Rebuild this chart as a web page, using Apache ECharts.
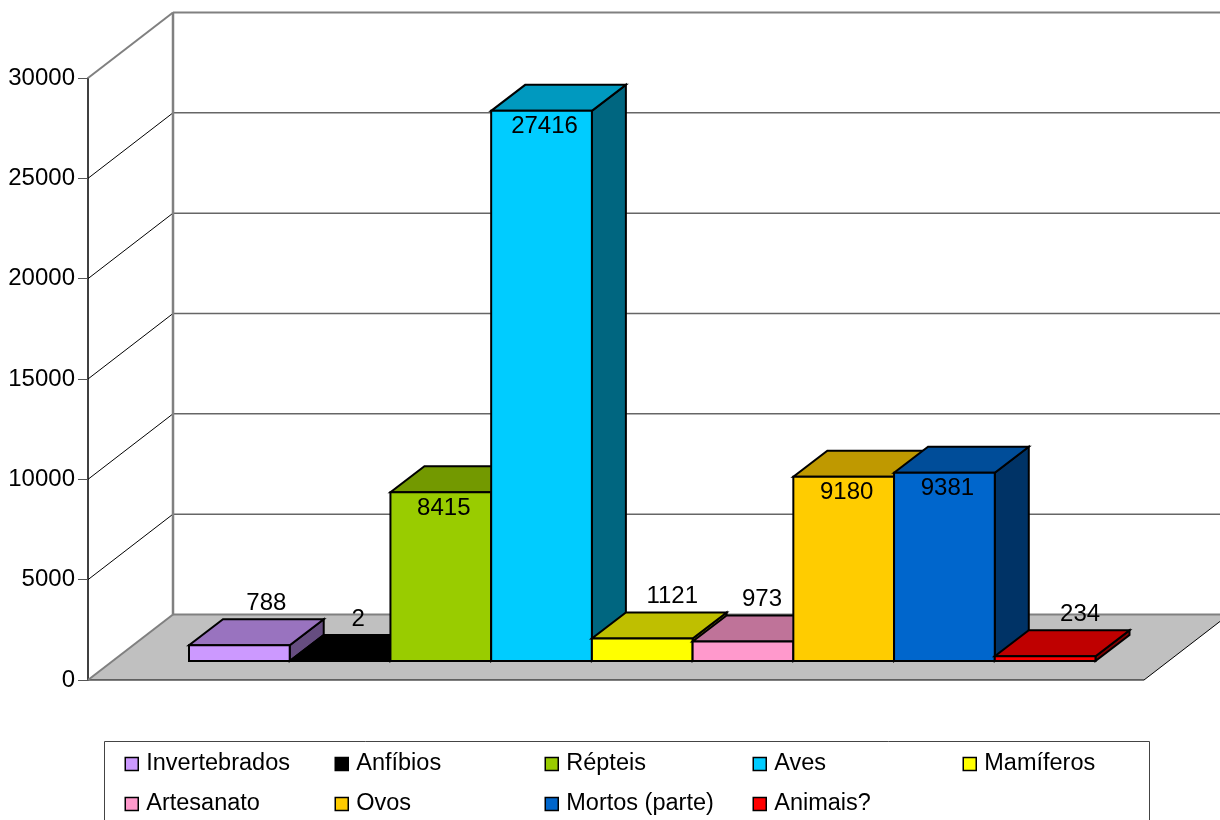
<!DOCTYPE html>
<html>
<head>
<meta charset="utf-8">
<style>html,body{margin:0;padding:0;background:#fff;overflow:hidden}#c{width:1220px;height:820px}</style>
<script src="https://cdn.jsdelivr.net/npm/echarts@6/dist/echarts.min.js"></script>
</head>
<body>
<div id="c"></div>
<script>
var categories = ['Invertebrados','Anfíbios','Répteis','Aves','Mamíferos','Artesanato','Ovos','Mortos (parte)','Animais?'];
var values = [788,2,8415,27416,1121,973,9180,9381,234];
var colors = ['#CC99FF','#000000','#99CC00','#00CCFF','#FFFF00','#FF99CC','#FFCC00','#0066CC','#FF0000'];
var yTicks = [0,5000,10000,15000,20000,25000,30000];
var yMax = 30000;

var FONT = '"Liberation Sans", Arial, sans-serif';
var WALL = [85,-65.5], BAR = [34,-26];
var outsideLabelShift = {0:27,1:18,4:30,5:19,8:35};

function shade(hex,k){
  var n=parseInt(hex.slice(1),16);
  return 'rgb('+Math.round((n>>16&255)*k)+','+Math.round((n>>8&255)*k)+','+Math.round((n&255)*k)+')';
}
function poly(pts,fill,stroke,w){
  return {type:'polygon',shape:{points:pts},style:{fill:fill,stroke:stroke,lineWidth:w,lineJoin:'miter'}};
}
function line(a,b,color,w){
  return {type:'line',shape:{x1:a[0],y1:a[1],x2:b[0],y2:b[1]},style:{stroke:color,lineWidth:w,fill:null}};
}
function off(p,d){return [p[0]+d[0],p[1]+d[1]];}

function renderFloor(params,api){
  var a=api.coord([0,0]), b=api.coord([1,0]);
  return {type:'group',children:[
    poly([a,b,off(b,WALL),off(a,WALL)],'#C0C0C0',null,0),
    line(a,b,'#000000',1),
    line(b,off(b,WALL),'#000000',1),
    line(a,off(a,WALL),'#808080',2),
    line(off(a,WALL),off(b,WALL),'#808080',2)
  ]};
}
function renderGrid(params,api){
  var v=api.value(0);
  if(v===0){return {type:'group',children:[]};}
  var a=api.coord([0,v]), b=api.coord([1,v]);
  var top=v===yMax;
  return {type:'group',children:[
    line(a,off(a,WALL),top?'#808080':'#000000',top?2:1),
    line(off(a,WALL),off(b,WALL),top?'#808080':'#666666',top?2:1.5)
  ]};
}
function renderWall(params,api){
  var a=api.coord([0,0]), t=api.coord([0,yMax]);
  return line(off(a,WALL),off(t,WALL),'#808080',2.5);
}
function renderBar(params,api){
  var idx=api.value(0), v=api.value(1);
  var c=api.coord([idx,v]), o=api.coord([idx,0]);
  var w=api.size([1,0])[0];
  var l=c[0]-w/2, r=c[0]+w/2, t=c[1], b=o[1];
  var col=colors[idx];
  var kids=[
    poly([[r,b],[r,t],off([r,t],BAR),off([r,b],BAR)],shade(col,0.5),'#000',2),
    poly([[l,t],[r,t],off([r,t],BAR),off([l,t],BAR)],shade(col,0.75),'#000',2),
    poly([[l,b],[r,b],[r,t],[l,t]],col,'#000',2)
  ];
  var s=outsideLabelShift[idx];
  var lx=s===undefined?c[0]+3:c[0]+s;
  var ly=s===undefined?t+16:t+BAR[1]-16;
  kids.push({type:'text',z2:100,style:{text:String(v),x:lx,y:ly,align:'center',verticalAlign:'middle',fill:'#000',font:'24px '+FONT}});
  return {type:'group',children:kids};
}

var series=[
  {type:'custom',name:'floor',xAxisIndex:0,yAxisIndex:0,silent:true,renderItem:renderFloor,data:[[0]],encode:{y:0},z:1},
  {type:'custom',name:'grid',xAxisIndex:0,yAxisIndex:0,silent:true,renderItem:renderGrid,data:yTicks.map(function(v){return [v];}),encode:{y:0},z:1},
  {type:'custom',name:'wall',xAxisIndex:0,yAxisIndex:0,silent:true,renderItem:renderWall,data:[[0]],encode:{y:0},z:1}
];
categories.forEach(function(name,i){
  series.push({type:'custom',name:name,xAxisIndex:1,yAxisIndex:1,renderItem:renderBar,
    data:[[i,values[i]]],encode:{x:0,y:1},itemStyle:{color:colors[i]},z:2+i*0.01});
});

var legendLefts=[124.5,334.5,544.5,752.5,962.5];
var legends=legendLefts.map(function(left,col){
  var names=[categories[col]];
  if(categories[col+5]) names.push(categories[col+5]);
  return {show:true,orient:'vertical',left:left,top:752,height:90,padding:0,data:names,icon:'rect',itemWidth:13,itemHeight:13,itemGap:16,
    selectedMode:false,itemStyle:{borderColor:'#000',borderWidth:1.5},
    textStyle:{fontFamily:FONT,fontSize:23.5,color:'#000',padding:[0,0,0,3]}};
});

var chart=echarts.init(document.getElementById('c'),null,{renderer:'canvas'});
chart.setOption({
  animation:false,
  backgroundColor:'#fff',
  tooltip:{show:false},
  grid:[
    {left:88,top:78,width:1056,height:602},
    {left:189,top:59,width:906.5,height:602}
  ],
  xAxis:[
    {type:'value',gridIndex:0,min:0,max:1,show:false},
    {type:'category',gridIndex:1,data:categories.map(function(c,i){return i;}),show:false}
  ],
  yAxis:[
    {type:'value',gridIndex:0,min:0,max:yMax,interval:5000,
     axisLine:{show:true,lineStyle:{color:'#000',width:1.5}},
     axisTick:{show:true,length:10,lineStyle:{color:'#555',width:1}},
     splitLine:{show:false},
     axisLabel:{fontFamily:FONT,fontSize:24,color:'#000',margin:13,padding:[10,0,0,0],formatter:function(v){return String(v);}}},
    {type:'value',gridIndex:1,min:0,max:yMax,show:false,splitLine:{show:false}}
  ],
  legend:legends,
  graphic:[{type:'rect',silent:true,z:-1,shape:{x:104.5,y:741.5,width:1045,height:100},style:{fill:'none',stroke:'#444',lineWidth:1}}],
  series:series
});
</script>
</body>
</html>
